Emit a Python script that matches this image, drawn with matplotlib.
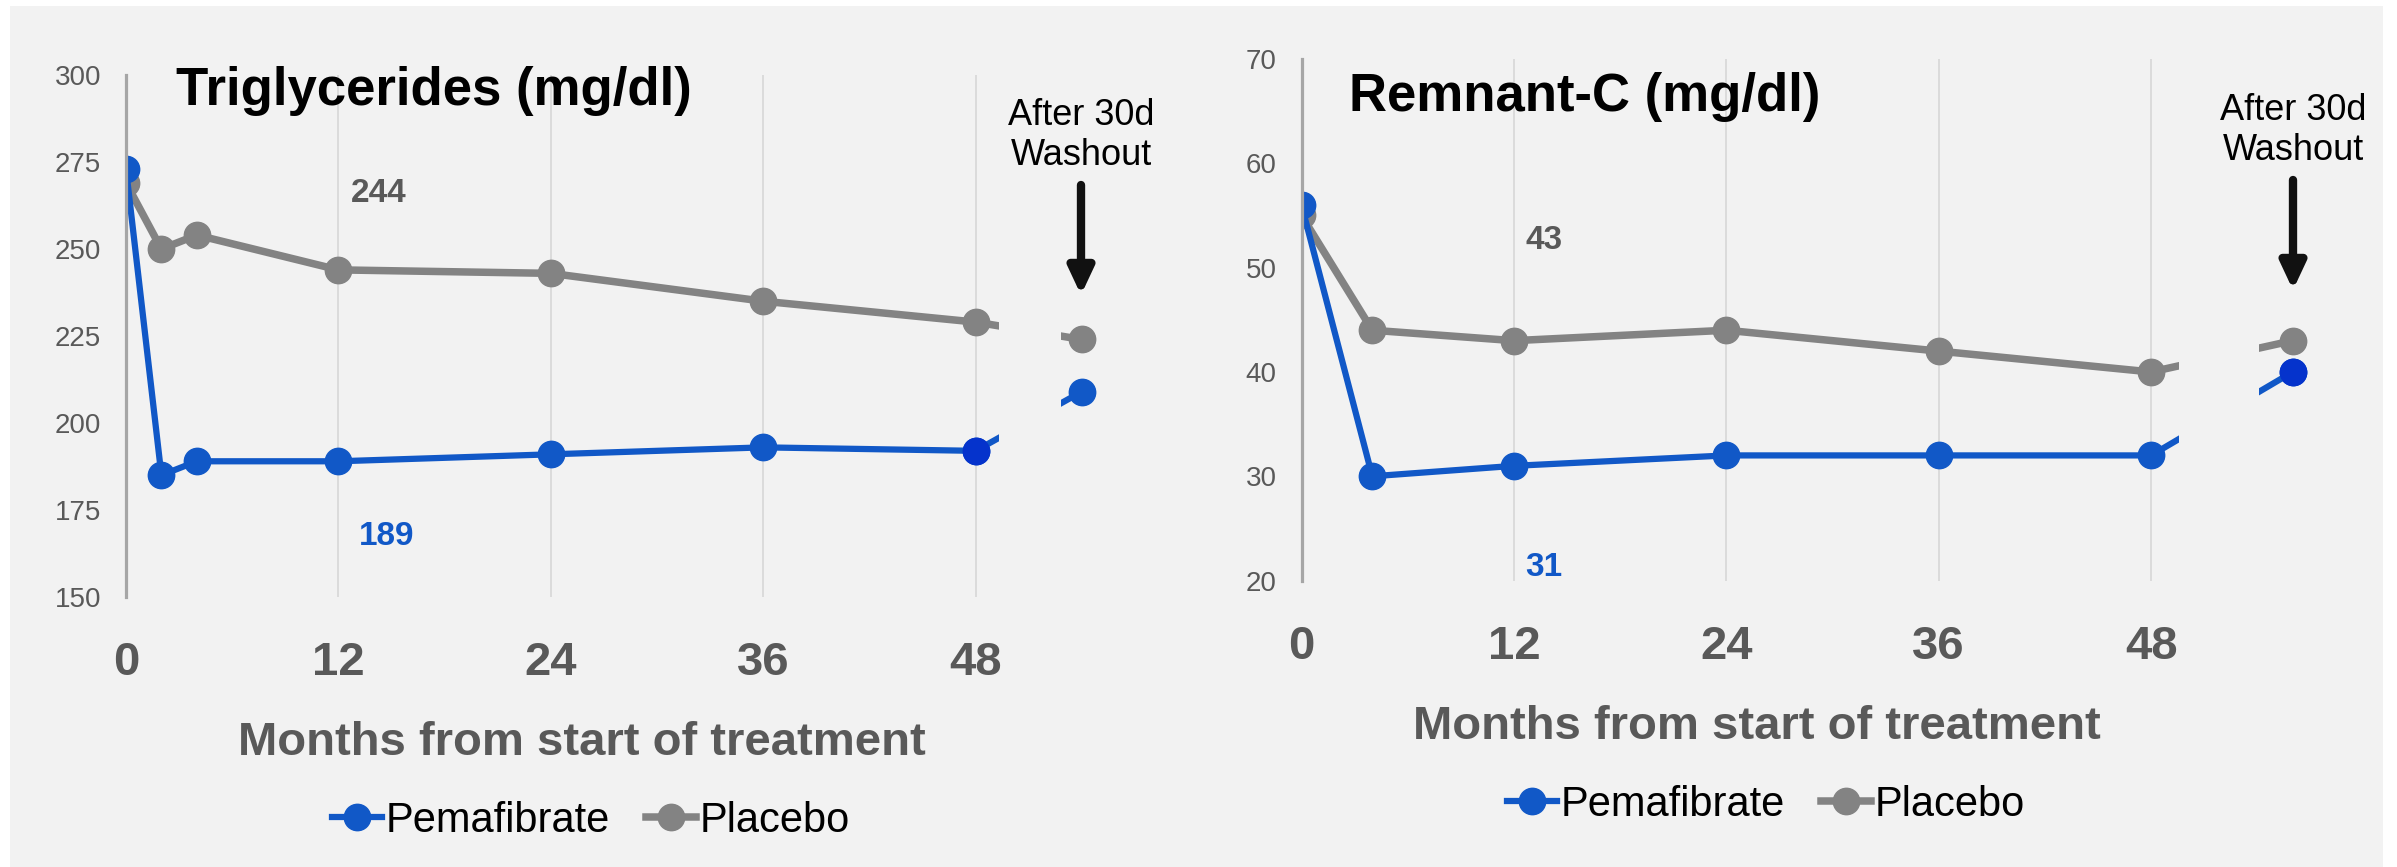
import matplotlib
matplotlib.use('Agg')
import matplotlib.pyplot as plt
from matplotlib.patches import Rectangle
from matplotlib.lines import Line2D

plt.rcParams['font.family'] = ['Liberation Sans', 'DejaVu Sans']

# Data
tg_months = [0, 2, 4, 12, 24, 36, 48, 54]
tg_pema = [273, 185, 189, 189, 191, 193, 192, 209]
tg_placebo = [269, 250, 254, 244, 243, 235, 229, 224]

rc_months = [0, 4, 12, 24, 36, 48, 56]
rc_pema = [56, 30, 31, 32, 32, 32, 40]
rc_placebo = [55, 44, 43, 44, 42, 40, 43]

month_ticks = [0, 12, 24, 36, 48]

BLUE = '#1158C7'
DARK_BLUE = '#0533CC'
GRAY = '#838383'
TXT = '#595959'
BG = '#F2F2F2'

W, H = 2397, 867
fig = plt.figure(figsize=(W / 100, H / 100), dpi=100)
fig.patch.set_facecolor('white')
fig.patches.append(Rectangle((10 / W, 0), (2383 - 10) / W, 1 - 6 / H,
                             transform=fig.transFigure, facecolor=BG,
                             edgecolor='none', zorder=-10))


def draw_panel(pos, months, pema, placebo, ylim, yticks, gap, title,
               title_xy, dark_idx, ann_pos, xlabel_xy, legend_xy, wash_x,
               wash_y):
    ax = fig.add_axes(pos)
    ax.set_facecolor('none')
    ax.plot(months, placebo, color=GRAY, lw=5.4, marker='o', ms=19,
            zorder=2, solid_capstyle='butt')
    ax.plot(months, pema, color=BLUE, lw=4.5, marker='o', ms=19,
            zorder=2.1, solid_capstyle='butt')
    ax.plot([months[dark_idx]], [pema[dark_idx]], 'o', color=DARK_BLUE,
            ms=19, zorder=2.2)
    # break between end of treatment and washout
    ax.axvspan(gap[0], gap[1], color=BG, zorder=3, lw=0)

    ax.set_xlim(0, pos[2] * W / 17.7)
    ax.set_ylim(*ylim)
    ax.set_xticks(month_ticks)
    ax.set_yticks(yticks)
    ax.grid(axis='x', color='#D9D9D9', lw=1.3, zorder=0)
    for s in ['top', 'right', 'bottom']:
        ax.spines[s].set_visible(False)
    ax.spines['left'].set_color('#A6A6A6')
    ax.spines['left'].set_linewidth(2.3)
    ax.tick_params(axis='y', length=0, pad=18, labelsize=20, labelcolor=TXT)
    ax.tick_params(axis='x', length=0, pad=32, labelsize=34, labelcolor=TXT)
    for lab in ax.get_xticklabels():
        lab.set_fontweight('bold')

    # values at 12 months
    ax.text(ann_pos[0][0], ann_pos[0][1], str(placebo[months.index(12)]),
            color=TXT, fontsize=24, fontweight='bold', ha='center', va='center')
    ax.text(ann_pos[1][0], ann_pos[1][1], str(pema[months.index(12)]),
            color=BLUE, fontsize=24, fontweight='bold', ha='center', va='center')

    fig.text(title_xy[0], title_xy[1], title, fontsize=38, fontweight='bold',
             color='black', ha='left', va='baseline')
    fig.text(xlabel_xy[0], xlabel_xy[1], 'Months from start of treatment',
             fontsize=34, fontweight='bold', color=TXT, ha='center',
             va='baseline')

    fig.text(wash_x, wash_y[0], 'After 30d', fontsize=26, ha='center',
             va='baseline')
    fig.text(wash_x, wash_y[1], 'Washout', fontsize=26, ha='center',
             va='baseline')
    ax.annotate('', xy=(wash_x, wash_y[3]), xytext=(wash_x, wash_y[2]),
                xycoords='figure fraction', textcoords='figure fraction',
                arrowprops=dict(arrowstyle='-|>,head_width=0.75,head_length=1.6',
                                lw=6, color='#111111', shrinkA=0, shrinkB=0))

    handles = [Line2D([], [], color=BLUE, lw=4.5, marker='o', ms=19),
               Line2D([], [], color=GRAY, lw=5.4, marker='o', ms=19)]
    fig.legend(handles, ['Pemafibrate', 'Placebo'], loc='center',
               bbox_to_anchor=legend_xy, ncol=2, frameon=False, fontsize=30,
               handlelength=1.2, handletextpad=0.1, columnspacing=0.85)
    return ax


draw_panel([126 / W, 1 - 597 / H, 57 * 17.69 / W, 522 / H],
           tg_months, tg_pema, tg_placebo, (150, 300),
           [150, 175, 200, 225, 250, 275, 300], (49.3, 52.8),
           'Triglycerides (mg/dl)', (176 / W, 1 - 105 / H), 6,
           [(14.3, 266), (14.7, 167.5)], (582 / W, 1 - 755 / H),
           (591 / W, 1 - 821 / H), 1081 / W,
           (1 - 125 / H, 1 - 165 / H, 1 - 185 / H, 1 - 295 / H))

draw_panel([1301.5 / W, 1 - 580.6 / H, 58 * 17.7 / W, 521.6 / H],
           rc_months, rc_pema, rc_placebo, (20, 70),
           [20, 30, 40, 50, 60, 70], (49.6, 54.1),
           'Remnant-C (mg/dl)', (1349 / W, 1 - 110.6 / H), 6,
           [(13.7, 52.6), (13.7, 21.3)], (1757 / W, 1 - 739 / H),
           (1766 / W, 1 - 805 / H), 2293 / W,
           (1 - 120 / H, 1 - 160 / H, 1 - 180 / H, 1 - 290 / H))

fig.savefig('out.png', dpi=100, facecolor=fig.get_facecolor())
